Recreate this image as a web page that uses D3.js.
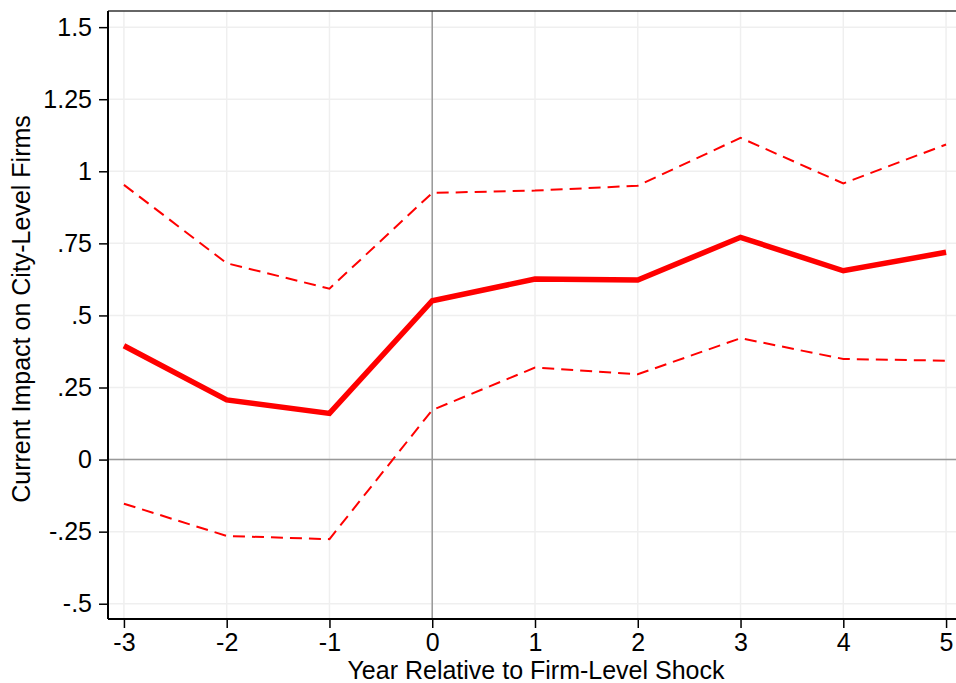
<!DOCTYPE html>
<html>
<head>
<meta charset="utf-8">
<script src="https://cdn.jsdelivr.net/npm/d3@7"></script>
<style>
  html, body { margin: 0; padding: 0; background: #fff; }
  text { font-family: "Liberation Sans", Arial, sans-serif; fill: #000; }
</style>
</head>
<body>
<div id="chart"></div>
<script>
// event time, relative to the firm-level shock
const years = [-3, -2, -1, 0, 1, 2, 3, 4, 5];
// point estimates and 95% bands
const estimate = [0.395, 0.207, 0.160, 0.551, 0.626, 0.623, 0.771, 0.655, 0.719];
const upperCI = [0.953, 0.681, 0.593, 0.925, 0.933, 0.950, 1.116, 0.958, 1.093];
const lowerCI = [-0.153, -0.265, -0.276, 0.172, 0.319, 0.296, 0.421, 0.349, 0.343];
// tick labels
const xTickLabels = ["-3", "-2", "-1", "0", "1", "2", "3", "4", "5"];
const yTicks = [-0.5, -0.25, 0, 0.25, 0.5, 0.75, 1, 1.25, 1.5];
const yTickLabels = ["-.5", "-.25", "0", ".25", ".5", ".75", "1", "1.25", "1.5"];

const width = 956, height = 683;
const margin = {top: 11, right: -6, bottom: 64, left: 108};
const fontSize = "25px";

const svg = d3.select("#chart")
  .append("svg")
  .attr("width", width)
  .attr("height", height);

const x = d3.scaleLinear()
  .domain([-3.155, 5.155])
  .range([margin.left, width - margin.right]);
const y = d3.scaleLinear()
  .domain([-0.553, 1.556])
  .range([height - margin.bottom, margin.top]);

// grid
svg.append("g")
  .selectAll("line")
  .data(years)
  .enter().append("line")
  .attr("x1", d => x(d)).attr("x2", d => x(d))
  .attr("y1", y.range()[1]).attr("y2", y.range()[0])
  .attr("stroke", "#efefef").attr("stroke-width", 1.5);
svg.append("g")
  .selectAll("line")
  .data(yTicks)
  .enter().append("line")
  .attr("x1", x.range()[0]).attr("x2", x.range()[1])
  .attr("y1", d => y(d)).attr("y2", d => y(d))
  .attr("stroke", "#efefef").attr("stroke-width", 1.5);

// reference lines at zero
svg.append("line")
  .attr("x1", x(0)).attr("x2", x(0))
  .attr("y1", y.range()[1]).attr("y2", y.range()[0])
  .attr("stroke", "#999").attr("stroke-width", 1.5);
svg.append("line")
  .attr("x1", x.range()[0]).attr("x2", x.range()[1])
  .attr("y1", y(0)).attr("y2", y(0))
  .attr("stroke", "#999").attr("stroke-width", 1.5);

// top border
svg.append("line")
  .attr("x1", x.range()[0]).attr("x2", x.range()[1])
  .attr("y1", y.range()[1]).attr("y2", y.range()[1])
  .attr("stroke", "#333").attr("stroke-width", 1.5);

// series
const line = d3.line()
  .x((d, i) => x(years[i]))
  .y(d => y(d));

[upperCI, lowerCI].forEach(band => {
  svg.append("path")
    .datum(band)
    .attr("d", line)
    .attr("fill", "none")
    .attr("stroke", "#ff0000")
    .attr("stroke-width", 2)
    .attr("stroke-dasharray", "12,7");
});

svg.append("path")
  .datum(estimate)
  .attr("d", line)
  .attr("fill", "none")
  .attr("stroke", "#ff0000")
  .attr("stroke-width", 5.5);

// axes
const xAxis = svg.append("g")
  .attr("transform", `translate(0,${y.range()[0]})`)
  .call(d3.axisBottom(x).tickValues(years).tickSize(9).tickPadding(5)
    .tickFormat((d, i) => xTickLabels[i]));
const yAxis = svg.append("g")
  .attr("transform", `translate(${x.range()[0]},0)`)
  .call(d3.axisLeft(y).tickValues(yTicks).tickSize(9).tickPadding(7)
    .tickFormat((d, i) => yTickLabels[i]));

[xAxis, yAxis].forEach(ax => {
  ax.select(".domain").attr("stroke", "#000").attr("stroke-width", 2);
  ax.selectAll(".tick line").attr("stroke", "#000").attr("stroke-width", 1.5);
  ax.selectAll(".tick text")
    .style("font-family", "'Liberation Sans', Arial, sans-serif")
    .style("font-size", fontSize)
    .attr("fill", "#000");
});
// no outer tick stubs
xAxis.select(".domain").attr("d", `M${x.range()[0]},0H${x.range()[1]}`);
yAxis.select(".domain").attr("d", `M0,${y.range()[0]}V${y.range()[1]}`);

// titles
svg.append("text")
  .attr("x", 536)
  .attr("y", 679)
  .attr("text-anchor", "middle")
  .style("font-size", fontSize)
  .text("Year Relative to Firm-Level Shock");

svg.append("text")
  .attr("transform", "translate(30,309) rotate(-90)")
  .attr("text-anchor", "middle")
  .style("font-size", fontSize)
  .text("Current Impact on City-Level Firms");
</script>
</body>
</html>
